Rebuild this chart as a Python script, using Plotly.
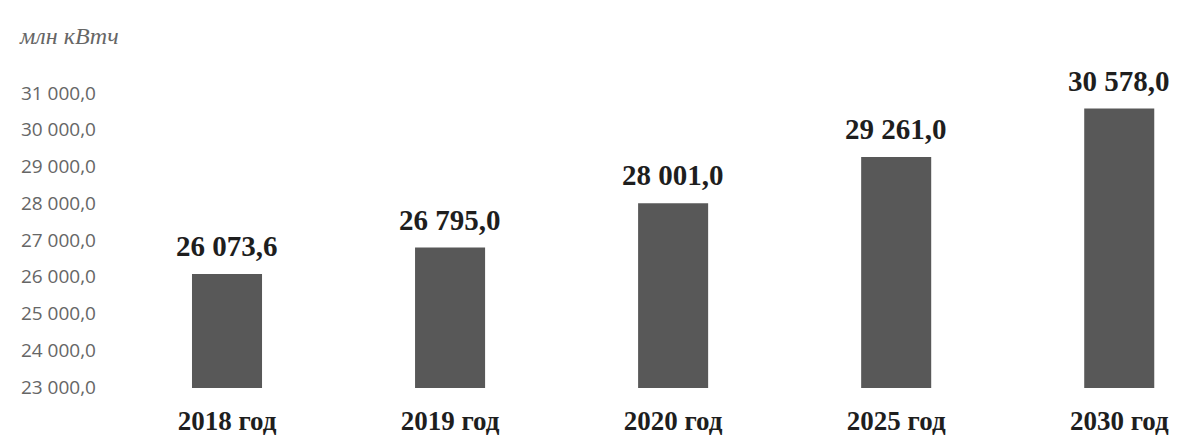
import plotly.graph_objects as go

categories = ["2018 год", "2019 год", "2020 год", "2025 год", "2030 год"]
values = [26073.6, 26795.0, 28001.0, 29261.0, 30578.0]
tick_vals = [23000, 24000, 25000, 26000, 27000, 28000, 29000, 30000, 31000]
tick_text = ["23 000,0", "24 000,0", "25 000,0", "26 000,0", "27 000,0",
             "28 000,0", "29 000,0", "30 000,0", "31 000,0"]
unit_label = "млн кВтч"


def fmt(v):
    return f"{v:,.1f}".replace(",", " ").replace(".", ",")


labels = [fmt(v) for v in values]

fig = go.Figure()
fig.add_trace(go.Bar(
    x=categories, y=values,
    marker=dict(color="#585858", line=dict(width=0)),
    cliponaxis=False,
))

annotations = [dict(
    x=c, y=v, xref="x", yref="y", text=f"<b>{t}</b>",
    showarrow=False, yanchor="bottom", xanchor="center", yshift=10,
    font=dict(family="Liberation Serif", size=29, color="#1e1e1e"),
) for c, v, t in zip(categories, values, labels)]

annotations.append(dict(
    text=f"<i>{unit_label}</i>", xref="paper", yref="paper",
    x=0, y=1.0, xshift=-88, yshift=24, xanchor="left", yanchor="middle",
    showarrow=False,
    font=dict(family="Liberation Serif", size=24, color="#666666"),
))

fig.update_layout(
    width=1172, height=432,
    margin=dict(l=97, r=5, t=52, b=52),
    paper_bgcolor="white", plot_bgcolor="white",
    bargap=0.686,
    showlegend=False,
    xaxis=dict(
        range=[-0.547, 4.25], showgrid=False, zeroline=False, showline=False,
        automargin=False,
        ticks="", ticklabelstandoff=14,
        tickfont=dict(family="Liberation Serif", size=27, color="#1e1e1e"),
        tickvals=categories, ticktext=[f"<b>{c}</b>" for c in categories],
    ),
    yaxis=dict(
        range=[22973, 31898], showgrid=False, zeroline=False, showline=False,
        automargin=False,
        tickvals=tick_vals, ticktext=tick_text, ticks="",
        ticklabelstandoff=8,
        tickfont=dict(family="Open Sans", size=19, color="#666666"),
    ),
    annotations=annotations,
)

fig.write_html("out.html")
